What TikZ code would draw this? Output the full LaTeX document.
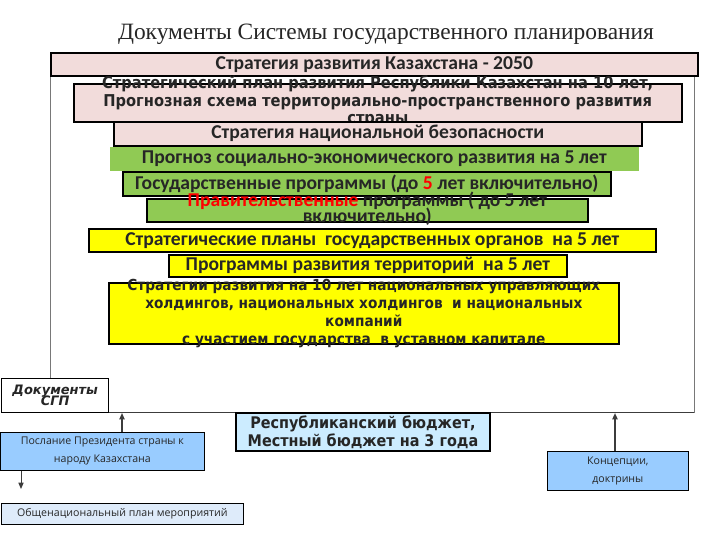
\documentclass[tikz,border=0pt]{standalone}
\usepackage{fontspec}
\setmainfont{Carlito}
\newfontfamily\titlefont{Liberation Serif}
\newfontfamily\widefont{DejaVu Sans Condensed}
\newfontfamily\obliquefont{DejaVu Sans}
\newfontfamily\smallfont{Open Sans}
\usetikzlibrary{arrows.meta}
\definecolor{pinkfill}{RGB}{242,220,219}
\definecolor{greenfill}{RGB}{144,202,84}
\definecolor{yellowfill}{RGB}{255,255,0}
\definecolor{budgetfill}{RGB}{204,236,255}
\definecolor{bluefill}{RGB}{153,204,255}
\definecolor{palefill}{RGB}{222,235,250}
\definecolor{textgray}{RGB}{38,38,38}
\definecolor{framegray}{RGB}{120,120,120}
\definecolor{arrowgray}{RGB}{60,60,60}

\begin{document}
\begin{tikzpicture}[x=1pt,y=-1pt,
  tier/.style={draw=black,line width=1.6pt,inner sep=0pt,anchor=north west,
    text=textgray,font=\bfseries\fontsize{19.6}{13}\selectfont},
  pinktier/.style={tier,fill=pinkfill},
  greentier/.style={tier,fill=greenfill},
  yellowtier/.style={tier,fill=yellowfill},
  widetext/.style={font=\widefont\bfseries\fontsize{16.3}{17.5}\selectfont},
  bluebox/.style={draw=black,line width=0.7pt,fill=bluefill,inner sep=0pt,
    anchor=north west,align=center,text=textgray,
    font=\smallfont\fontsize{10.6}{18}\selectfont},
  arr/.style={-{Triangle[length=2.2mm,width=1.8mm]},draw=arrowgray}]

  \useasboundingbox (0,0) rectangle (720,540);
  \fill[white] (0,0) rectangle (720,540);

  % заголовок
  \node[font=\titlefont\fontsize{23.4}{26}\selectfont,text=black!85] (title) at (386,34)
    {Документы Системы государственного планирования};

  % рамка СГП
  \draw[framegray,line width=0.8pt] (50,60) rectangle (694,412);
  \draw[arrowgray,line width=1pt] (50,412) -- (694,412);
  \coordinate (sgpin) at (122,413);
  \coordinate (konin) at (615,413);
  \coordinate (plandown) at (21,489);

  % уровни документов
  \node[pinktier,minimum width=647pt,minimum height=23pt] (strat2050) at (50,52)
    {Стратегия развития Казахстана - 2050};
  \node[pinktier,widetext,minimum width=608pt,minimum height=38pt] (plan10) at (73,83)
    {\smash{\raisebox{-4pt}{\begin{tabular}{@{}c@{}}Стратегический план развития Республики Казахстан на 10 лет,\\
     Прогнозная схема территориально-пространственного развития\\страны\end{tabular}}}};
  \node[pinktier,minimum width=528pt,minimum height=24pt] (natsec) at (113,121)
    {Стратегия национальной безопасности};
  \node[greentier,draw=none,minimum width=529pt,minimum height=24pt] (prognoz) at (109,146)
    {Прогноз социально-экономического развития на 5 лет};
  \node[greentier,minimum width=488pt,minimum height=24pt] (gosprog) at (122,171)
    {Государственные программы (до \textcolor{red}{5} лет включительно)};
  \node[greentier,minimum width=441pt,minimum height=23pt] (pravprog) at (146,198)
    {\smash{\raisebox{-4pt}{\begin{tabular}{@{}c@{}}\textcolor{red}{Правительственные} программы ( до 5 лет\\[-2.5pt]
     включительно)\end{tabular}}}};
  \node[yellowtier,minimum width=567pt,minimum height=23pt] (stratorg) at (88,228)
    {Стратегические планы\ \ государственных органов\ \ на 5 лет};
  \node[yellowtier,minimum width=398pt,minimum height=22pt] (terr) at (168,254)
    {Программы развития территорий\ \ на 5 лет};
  \node[yellowtier,font=\widefont\bfseries\fontsize{15.2}{17.9}\selectfont,
    minimum width=510pt,minimum height=61pt] (holding) at (108,282)
    {\smash{\raisebox{-4.5pt}{\begin{tabular}{@{}c@{}}Стратегии развития на 10 лет национальных управляющих\\
     холдингов, национальных холдингов\ \ и национальных\\компаний\\
     с участием государства\ \ в уставном капитале\end{tabular}}}};

  % нижний ряд
  \node[draw=black,line width=1.4pt,fill=white,inner sep=0pt,anchor=north west,
    minimum width=107pt,minimum height=34pt,align=center,text=textgray,
    font=\obliquefont\bfseries\itshape\fontsize{13}{10.5}\selectfont] (sgp) at (1,378)
    {Документы\\[-2.5pt]СГП};
  \node[draw=black,line width=2pt,fill=budgetfill,inner sep=0pt,anchor=north west,
    minimum width=254pt,minimum height=38pt,align=center,text=textgray,
    font=\widefont\bfseries\fontsize{16}{18}\selectfont] (budget) at (235,412)
    {Республиканский бюджет,\\Местный бюджет на 3 года};
  \node[bluebox,minimum width=204pt,minimum height=38pt] (poslanie) at (0,432)
    {Послание Президента страны к\\народу Казахстана};
  \node[bluebox,minimum width=141pt,minimum height=39pt] (koncep) at (547,451)
    {Концепции,\\доктрины};
  \node[bluebox,fill=palefill,minimum width=242pt,minimum height=21pt] (obshplan) at (1,503)
    {Общенациональный план мероприятий};

  % стрелки
  \draw[arr,line width=1.3pt] (sgpin |- poslanie.north) -- (sgpin);
  \draw[arr,line width=2pt] (konin |- koncep.north) -- (konin);
  \draw[arr,line width=1pt] (plandown |- poslanie.south) -- (plandown);
\end{tikzpicture}
\end{document}
